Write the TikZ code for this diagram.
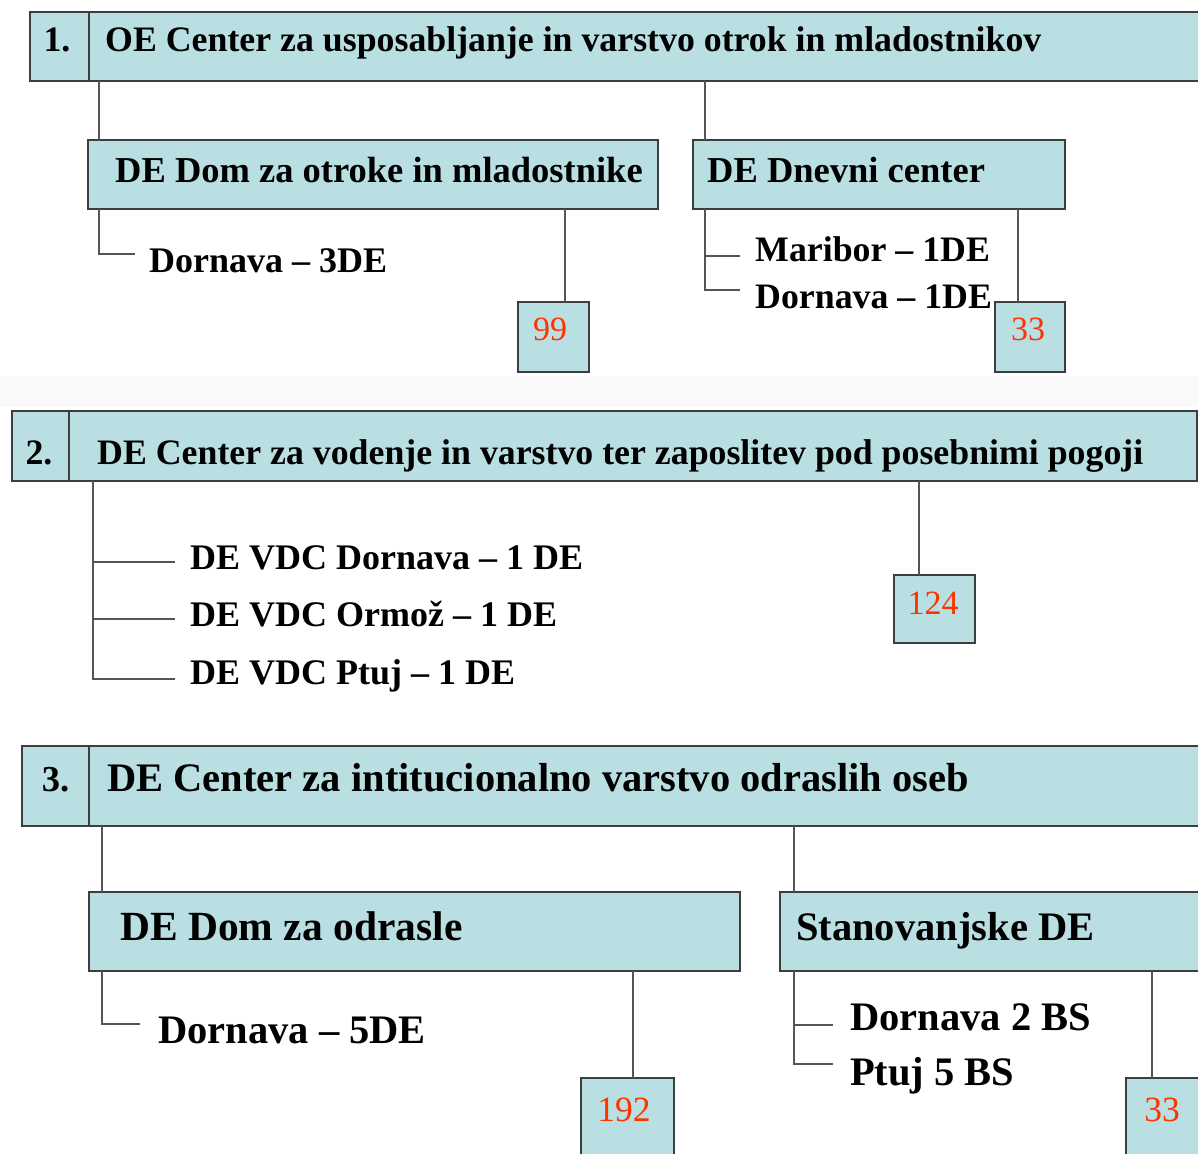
\documentclass[tikz,border=0pt]{standalone}
\usepackage{fontspec}
\setmainfont{Liberation Serif}
\definecolor{boxc}{RGB}{185,223,227}
\definecolor{bordc}{RGB}{60,62,64}
\definecolor{connc}{RGB}{85,85,85}
\definecolor{numc}{RGB}{255,51,0}
\begin{document}
\begin{tikzpicture}[x=1pt,y=-1pt,
  box/.style={draw=bordc, line width=1.6pt, fill=boxc, anchor=north west, inner sep=0pt, outer sep=0pt},
  conn/.style={draw=connc, line width=1.4pt},
  txt/.style={anchor=base west, inner sep=0pt},
  hnum/.style={anchor=base, inner sep=0pt},
  num/.style={anchor=base, inner sep=0pt, text=numc},
  fA/.style={font=\fontsize{35.8}{36}\selectfont\bfseries},
  fA3/.style={font=\fontsize{40.5}{41}\selectfont\bfseries},
  fB/.style={font=\fontsize{36.5}{37}\selectfont\bfseries},
  fC/.style={font=\fontsize{35.8}{36}\selectfont\bfseries},
  fC2/.style={font=\fontsize{36}{36}\selectfont\bfseries},
  fD/.style={font=\fontsize{41.5}{42}\selectfont\bfseries},
  fE/.style={font=\fontsize{40.5}{41}\selectfont\bfseries},
  fN/.style={font=\fontsize{34}{34}\selectfont},
  fN3/.style={font=\fontsize{35.5}{36}\selectfont},
]
\useasboundingbox (0,0) rectangle (1198,1153);
\clip (0,0) rectangle (1198,1153);
\fill[gray!5] (0,376) rectangle (1198,407);

% ---------- Section 1 ----------
\node[box, minimum width=59, minimum height=69] (h1n) at (30,12) {};
\node[box, minimum width=1150, minimum height=69] (h1m) at (89,12) {};
\node[hnum, fA] (t1n) at (57,52) {1.};
\node[txt, fA] (t1m) at (105,52) {OE Center za usposabljanje in varstvo otrok in mladostnikov};

\node[box, minimum width=570, minimum height=69] (s1a) at (88,140) {};
\node[txt, fB] (s1at) at (115,182) {DE Dom za otroke in mladostnike};
\node[box, minimum width=372, minimum height=69] (s1b) at (693,140) {};
\node[txt, fB] (s1bt) at (707,182) {DE Dnevni center};

\coordinate (c1a) at (99,140);
\coordinate (c1b) at (705,140);
\draw[conn] (c1a |- h1m.south) -- (c1a);
\draw[conn] (c1b |- h1m.south) -- (c1b);

\node[txt, fC2] (l1a) at (149,272) {Dornava -- 3DE};
\coordinate (e1a) at (135,254);
\draw[conn] (c1a |- s1a.south) |- (e1a);

\node[txt, fC] (l1b) at (755,261) {Maribor -- 1DE};
\node[txt, fC] (l1c) at (755,308) {Dornava -- 1DE};
\coordinate (e1b) at (740,256);
\coordinate (e1c) at (740,290);
\draw[conn] (c1b |- s1b.south) |- (e1c);
\draw[conn] (c1b |- e1b) -- (e1b);

\node[box, minimum width=71, minimum height=70] (n1a) at (518,302) {};
\node[num, fN] (n1at) at (550,340) {99};
\draw[conn] (565,0 |- s1a.south) -- (565,0 |- n1a.north);
\node[box, minimum width=70, minimum height=70] (n1b) at (995,302) {};
\node[num, fN] (n1bt) at (1028,340) {33};
\draw[conn] (1018,0 |- s1b.south) -- (1018,0 |- n1b.north);

% ---------- Section 2 ----------
\node[box, minimum width=57, minimum height=70] (h2n) at (12,411) {};
\node[box, minimum width=1128, minimum height=70] (h2m) at (69,411) {};
\node[hnum, fA] (t2n) at (39,464) {2.};
\node[txt, fA] (t2m) at (97,464) {DE Center za vodenje in varstvo ter zaposlitev pod posebnimi pogoji};

\node[txt, fC2] (l2a) at (190,569) {DE VDC Dornava -- 1 DE};
\node[txt, fC2] (l2b) at (190,626) {DE VDC Ormož -- 1 DE};
\node[txt, fC2] (l2c) at (190,684) {DE VDC Ptuj -- 1 DE};
\coordinate (e2a) at (175,562);
\coordinate (e2b) at (175,619);
\coordinate (e2c) at (175,679);
\draw[conn] (93,0 |- h2m.south) |- (e2c);
\draw[conn] (93,0 |- e2a) -- (e2a);
\draw[conn] (93,0 |- e2b) -- (e2b);

\node[box, minimum width=81, minimum height=68] (n2) at (894,575) {};
\node[num, fN] (n2t) at (933,614) {124};
\draw[conn] (919,0 |- h2m.south) -- (919,0 |- n2.north);

% ---------- Section 3 ----------
\node[box, minimum width=67, minimum height=80] (h3n) at (22,746) {};
\node[box, minimum width=1150, minimum height=80] (h3m) at (89,746) {};
\node[hnum, fB] (t3n) at (55.5,791) {3.};
\node[txt, fA3] (t3m) at (107,791) {DE Center za intitucionalno varstvo odraslih oseb};

\node[box, minimum width=651, minimum height=79] (s3a) at (89,892) {};
\node[txt, fD] (s3at) at (120,940) {DE Dom za odrasle};
\node[box, minimum width=460, minimum height=79] (s3b) at (780,892) {};
\node[txt, fE] (s3bt) at (796,940) {Stanovanjske DE};

\coordinate (c3a) at (102,892);
\coordinate (c3b) at (794,892);
\draw[conn] (c3a |- h3m.south) -- (c3a);
\draw[conn] (c3b |- h3m.south) -- (c3b);

\node[txt, fE] (l3a) at (158,1043) {Dornava -- 5DE};
\coordinate (e3a) at (140,1024);
\draw[conn] (c3a |- s3a.south) |- (e3a);

\node[txt, fE] (l3b) at (850,1030) {Dornava 2 BS};
\node[txt, fE] (l3c) at (850,1085) {Ptuj 5 BS};
\coordinate (e3b) at (833,1025);
\coordinate (e3c) at (833,1064);
\draw[conn] (c3b |- s3b.south) |- (e3c);
\draw[conn] (c3b |- e3b) -- (e3b);

\node[box, minimum width=93, minimum height=100] (n3a) at (581,1078) {};
\node[num, fN3] (n3at) at (624,1121) {192};
\draw[conn] (633,0 |- s3a.south) -- (633,0 |- n3a.north);
\node[box, minimum width=100, minimum height=100] (n3b) at (1126,1078) {};
\node[num, fN3] (n3bt) at (1162,1121) {33};
\draw[conn] (1152,0 |- s3b.south) -- (1152,0 |- n3b.north);
\end{tikzpicture}
\end{document}
